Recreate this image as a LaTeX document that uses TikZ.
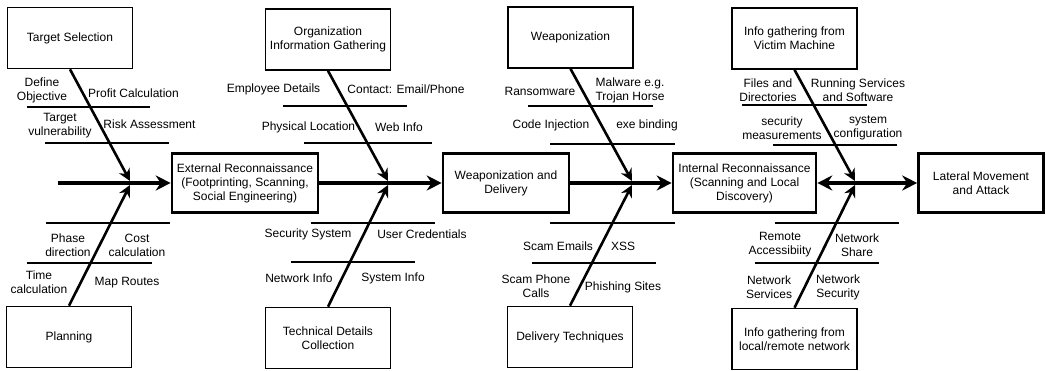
\documentclass[tikz,border=0pt]{standalone}
\usepackage{fontspec}
\setmainfont{Liberation Sans}
\usetikzlibrary{arrows.meta}
\begin{document}
\begin{tikzpicture}[x=1pt,y=-1pt,
  font=\fontsize{12}{14}\selectfont,
  mainbox/.style={draw, line width=2.6pt, align=center, inner sep=0pt, minimum height=59pt},
  sidebox/.style={draw, line width=1.6pt, align=center, inner sep=0pt, minimum width=125pt, minimum height=61pt},
  spine/.style={line width=4pt, -{Stealth[length=15pt,width=15pt,inset=5pt]}},
  dspine/.style={line width=4pt, {Stealth[length=15pt,width=15pt,inset=5pt]}-{Stealth[length=15pt,width=15pt,inset=5pt]}},
  bone/.style={line width=2.6pt, -{Stealth[length=12pt,width=12pt,inset=4pt]}},
  rib/.style={line width=1.5pt},
  lbl/.style={align=center, inner sep=0pt}]
\useasboundingbox (0,0) rectangle (1046,371);

% main boxes
\node[mainbox, minimum width=146pt] (ext) at (245,183) {External Reconnaissance\\(Footprinting, Scanning,\\Social Engineering)};
\node[mainbox, minimum width=126pt] (wd) at (506,183) {Weaponization and\\Delivery};
\node[mainbox, minimum width=143pt] (ir) at (744.5,183) {Internal Reconnaissance\\(Scanning and Local\\Discovery)};
\node[mainbox, minimum width=125pt] (lat) at (981,183) {Lateral Movement\\and Attack};

% side boxes
\node[sidebox] (ts) at (70,38) {Target Selection};
\node[sidebox] (pl) at (69,337) {Planning};
\node[sidebox] (org) at (328,39.5) {Organization\\Information Gathering};
\node[sidebox] (tech) at (328,338) {Technical Details\\Collection};
\node[sidebox] (wp) at (570.5,37.5) {Weaponization};
\node[sidebox] (dt) at (570,337) {Delivery Techniques};
\node[sidebox] (vm) at (794.5,38.5) {Info gathering from\\Victim Machine};
\node[sidebox] (ln) at (794.5,339) {Info gathering from\\local/remote network};

% spine
\coordinate (s0) at (58,183);
\draw[spine] (s0) -- (ext.west);
\draw[spine] (ext.east) -- (wd.west);
\draw[spine] (wd.east) -- (ir.west);
\draw[dspine] (ir.east) -- (lat.west);

% junction coordinates
\coordinate (j1t) at (130,181); \coordinate (j1b) at (130,185);
\coordinate (j2t) at (388,181); \coordinate (j2b) at (388,185);
\coordinate (j3t) at (632,181); \coordinate (j3b) at (632,185);
\coordinate (j4t) at (855,181); \coordinate (j4b) at (855,185);

\draw[bone] (ts.south) -- (j1t);
\draw[bone] (pl.north) -- (j1b);
\draw[bone] (org.south) -- (j2t);
\draw[bone] (tech.north) -- (j2b);
\draw[bone] (wp.south) -- (j3t);
\draw[bone] (dt.north) -- (j3b);
\draw[bone] (vm.south) -- (j4t);
\draw[bone] (ln.north) -- (j4b);

% ribs
\draw[rib] (27,107) -- (150,107);
\draw[rib] (45,143) -- (169,143);
\draw[rib] (46,223) -- (170,223);
\draw[rib] (27,263) -- (152,263);

\draw[rib] (283,106) -- (407,106);
\draw[rib] (304,143) -- (432,143);
\draw[rib] (311,223) -- (435,223);
\draw[rib] (291,262) -- (415,262);

\draw[rib] (528,106) -- (653,106);
\draw[rib] (550,144) -- (675,144);
\draw[rib] (550,223) -- (675,223);
\draw[rib] (532,263) -- (656,263);

\draw[rib] (742,105) -- (867,105);
\draw[rib] (773,145) -- (897,145);
\draw[rib] (775,223) -- (899,223);
\draw[rib] (755,263) -- (879,263);

% labels column 1
\node[lbl] (l1) at (42,90) {Define\\Objective};
\node[lbl] (l2) at (133.5,93) {Profit Calculation};
\node[lbl] (l3) at (60,126) {Target\\vulnerability};
\node[lbl] (l4) at (149.5,124) {Risk Assessment};
\node[lbl] (l5) at (68,245) {Phase\\direction};
\node[lbl] (l6) at (137,245) {Cost\\calculation};
\node[lbl] (l7) at (39,282) {Time\\calculation};
\node[lbl] (l8) at (127,283) {Map Routes};

% labels column 2
\node[lbl] (m1) at (273.5,89) {Employee Details};
\node[lbl] (m2) at (406,89) {Contact: Email/Phone};
\node[lbl] (m3) at (308.5,127) {Physical Location};
\node[lbl] (m4) at (399,127) {Web Info};
\node[lbl] (m5) at (308,234) {Security System};
\node[lbl] (m6) at (422,234) {User Credentials};
\node[lbl] (m7) at (299,278) {Network Info};
\node[lbl] (m8) at (393,278) {System Info};

% labels column 3
\node[lbl] (n1) at (540,91) {Ransomware};
\node[lbl] (n2) at (630,90) {Malware e.g.\\Trojan Horse};
\node[lbl] (n3) at (551,125) {Code Injection};
\node[lbl] (n4) at (647,125) {exe binding};
\node[lbl] (n5) at (558,246) {Scam Emails};
\node[lbl] (n6) at (623,246) {XSS};
\node[lbl] (n7) at (536,286) {Scam Phone\\Calls};
\node[lbl] (n8) at (623,287) {Phishing Sites};

% labels column 4
\node[lbl] (o1) at (768,90) {Files and\\Directories};
\node[lbl] (o2) at (858,90) {Running Services\\and Software};
\node[lbl] (o3) at (782,128) {security\\measurements};
\node[lbl] (o4) at (868,128) {system\\configuration};
\node[lbl] (o5) at (780,245) {Remote\\Accessibiity};
\node[lbl] (o6) at (857,245) {Network\\Share};
\node[lbl] (o7) at (769,287) {Network\\Services};
\node[lbl] (o8) at (838,287) {Network\\Security};
\end{tikzpicture}
\end{document}
